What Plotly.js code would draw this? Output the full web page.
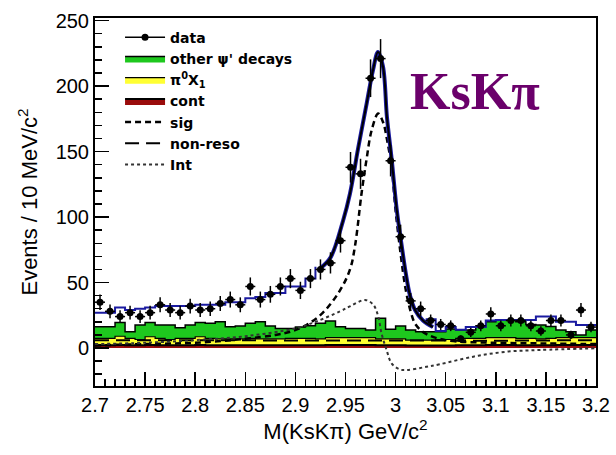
<!DOCTYPE html>
<html>
<head>
<meta charset="utf-8">
<script src="https://cdn.plot.ly/plotly-3.0.1.min.js"></script>
<style>html,body{margin:0;padding:0;background:#fff;}#chart{width:616px;height:455px;}</style>
</head>
<body>
<div id="chart"></div>
<script>
// Bin centres of M(KsKpi), 10 MeV bins
const massBins = [2.705,2.715,2.725,2.735,2.745,2.755,2.765,2.775,2.785,2.795,
  2.805,2.815,2.825,2.835,2.845,2.855,2.865,2.875,2.885,2.895,
  2.905,2.915,2.925,2.935,2.945,2.955,2.965,2.975,2.985,2.995,
  3.005,3.015,3.025,3.035,3.045,3.055,3.065,3.075,3.085,3.095,
  3.105,3.115,3.125,3.135,3.145,3.155,3.165,3.175,3.185,3.195];
const dataEvents = [35,28,24,27,24,27,33,29,27,32,
  29,30,34,37,33,47,37,41,47,53,
  44,53,60,65,82,138,133,206,221,143,
  85,36,30,21,18,17,7,12,17,26,
  17,21,21,17,13,21,21,10,29,16];
const dataErrors = [5.9,5.3,4.9,5.2,4.9,5.2,5.7,5.4,5.2,5.7,
  5.4,5.5,5.8,6.1,5.7,6.9,6.1,6.4,6.9,7.3,
  6.6,7.3,7.7,8.1,9.1,11.7,11.5,14.4,14.9,12.0,
  9.2,6.0,5.5,4.6,4.2,4.1,2.6,3.5,4.1,5.1,
  4.1,4.6,4.6,4.1,3.6,4.6,4.6,3.2,5.4,4.0];
// stacked background histograms (cumulative heights)
const otherPsiDecays = [16.3,16.3,19.4,12.5,17.6,19.4,17.6,17.6,15.5,17.6,
  19.4,19,20,16.3,16.8,18.9,20,16.8,15,15,
  16,17,19,20.6,16.3,15,15,13.8,22.7,14.3,
  16.8,13.8,12.5,12.5,12.5,14.5,13.8,13.8,16.8,20,
  21.4,21.4,20,18,17.6,16.5,13.8,12.5,10,13.8];
const pi0X1 = [7.4,7.4,9,7.4,6.5,8.6,7.4,6.5,7.4,7.4,
  8.6,7.4,7,7,7,7.4,7,7,7,7.4,
  7.4,7.4,7,8,8,8,8,8,7,7,
  7,6,6,6,6.5,6.5,7.4,7.4,7.4,8,
  8,8,7.4,7.4,7,7.4,8,8,8,8];
const contBkg = [2.2,2.2,2.4,2.2,2.1,2.4,2.2,2.1,2.2,2.2,
  2.4,2.2,2.1,2.1,2.1,2.2,2.1,2.1,2.1,2.2,
  2.2,2.2,2.1,2.3,2.3,2.3,2.3,2.3,2.1,2.1,
  2.1,2.0,2.0,2.0,2.0,2.0,2.2,2.2,2.2,2.3,
  2.3,2.3,2.2,2.2,2.1,2.2,2.3,2.3,2.3,2.3];
// total fit, binned (background-dominated regions)
const totalFitBinned = [27,27,31,29,30,31,32,32,32,32,
  33,33,33,35,35,38,39,42,42,47,
  47,53,62,null,null,null,null,null,null,null,
  null,null,null,22,13,16,14,16,16,21,
  21.4,21.4,21.4,21.4,24,24,20,20,17.6,17.6];
// total fit, smooth peak region
const peakX = [2.925,2.935,2.9475,2.9545,2.9625,2.9712,2.9774,2.9824,2.9874,2.9914,2.9961,3.0011,3.0061,3.0104,3.0144,3.0194,3.0273,3.0373];
const peakY = [61,69,97,118,152,187,212,226,215,176,144,106,78,56,40,29,21,16];
// signal component
const sigX = [2.70,2.75,2.80,2.85,2.88,2.895,2.911,2.9275,2.9445,2.9545,2.9595,2.966,2.971,2.976,2.9826,2.9877,2.9917,2.996,3.0,3.005,3.01,3.015,3.02,3.03,3.05,3.1,3.15,3.2];
const sigY = [2,3,4,7,10,12.5,17.6,27,44,60,78,118,144,166,179,172,158,138,105,72,45,28,18,11,6,4,3.5,3];
// non-resonant component
const nonResoX = [2.7,2.8,2.9,3.0,3.1,3.2];
const nonResoY = [6,5.8,5.5,5.3,5.6,6];
// interference component
const intX = [2.70,2.75,2.80,2.85,2.90,2.92,2.9445,2.955,2.9695,2.9778,2.9827,2.986,2.991,2.996,3.004,3.011,3.0277,3.044,3.0775,3.111,3.144,3.2];
const intY = [3,4,6,9,15,20,28,32,36.7,33,24,11,-1.5,-11.7,-16.3,-16.8,-14.8,-12.4,-6.6,-2.8,-1.5,-0.2];

const halfBin = 0.005;
function stepX(centers){ const e = centers.map(c => +(c - halfBin).toFixed(4)); e.push(+(centers[centers.length-1] + halfBin).toFixed(4)); return e; }
function stepY(vals){ const v = vals.slice(); v.push(vals[vals.length-1]); return v; }
const edges = stepX(massBins);

const sans = 'Liberation Sans, Arial, Helvetica, sans-serif';
const traces = [
  {x: edges, y: stepY(otherPsiDecays), type:'scatter', mode:'lines', line:{shape:'hv', color:'#000', width:1.5}, fill:'tozeroy', fillcolor:'#1ec81e', name:"other ψ' decays", legendrank:2},
  {x: edges, y: stepY(pi0X1), type:'scatter', mode:'lines', line:{shape:'hv', color:'#000', width:1.2}, fill:'tozeroy', fillcolor:'#ffff33', name:'π<sup>0</sup>X<sub>1</sub>', legendrank:3},
  {x: edges, y: stepY(contBkg), type:'scatter', mode:'lines', line:{shape:'hv', color:'#000', width:2}, fill:'tozeroy', fillcolor:'#9a0c0c', name:'cont', legendrank:4},
  {x: nonResoX, y: nonResoY, type:'scatter', mode:'lines', line:{color:'#000', width:2, dash:'14px,7px'}, name:'non-reso', legendrank:6},
  {x: sigX, y: sigY, type:'scatter', mode:'lines', line:{color:'#000', width:2.5, dash:'6px,4px', shape:'spline'}, name:'sig', legendrank:5},
  {x: intX, y: intY, type:'scatter', mode:'lines', line:{color:'#333', width:2, dash:'dot', shape:'spline'}, name:'Int', legendrank:7},
  {x: edges, y: stepY(totalFitBinned), type:'scatter', mode:'lines', line:{shape:'hv', color:'#1a1aa0', width:2}, connectgaps:false, showlegend:false},
  {x: peakX, y: peakY, type:'scatter', mode:'lines', line:{shape:'spline', color:'#1a1aa0', width:4}, showlegend:false},
  {x: peakX, y: peakY, type:'scatter', mode:'lines', line:{shape:'spline', color:'#000', width:2}, showlegend:false},
  {x: massBins, y: dataEvents, type:'scatter', mode:'markers', marker:{color:'#000', size:7},
   error_y:{type:'data', array:dataErrors, color:'#000', thickness:1.5, width:0},
   error_x:{type:'constant', value:halfBin, color:'#000', thickness:1.5, width:0}, showlegend:false},
  {x:[null], y:[null], type:'scatter', mode:'lines+markers', line:{color:'#000', width:1.5}, marker:{color:'#000', size:7}, name:'data', legendrank:1}
];

const axisCommon = {
  showgrid:false, zeroline:false, showline:true, linecolor:'#000', linewidth:2, mirror:true,
  ticks:'inside', ticklen:14, tickwidth:1.5, tickcolor:'#000',
  tickfont:{family:sans, size:20, color:'#000'},
};
const layout = {
  width:616, height:455,
  margin:{l:95, r:20, t:18, b:69},
  paper_bgcolor:'#fff', plot_bgcolor:'#fff',
  showlegend:true,
  legend:{x:0.05, y:0.99, xanchor:'left', yanchor:'top', bgcolor:'rgba(0,0,0,0)', borderwidth:0,
    font:{family:'DejaVu Sans, sans-serif', size:14, color:'#000', weight:'bold'}, itemwidth:40, tracegroupgap:0},
  xaxis: Object.assign({}, axisCommon, {range:[2.7,3.2], tick0:2.7, dtick:0.05,
    minor:{dtick:0.01, ticks:'inside', ticklen:7, tickwidth:1.5, tickcolor:'#000', showgrid:false},
    title:{text:'M(KsKπ) GeV/c<sup>2</sup>', font:{family:sans, size:22, color:'#000'}, standoff:8}}),
  yaxis: Object.assign({}, axisCommon, {range:[-29,252], tick0:0, dtick:50,
    minor:{dtick:10, ticks:'inside', ticklen:7, tickwidth:1.5, tickcolor:'#000', showgrid:false},
    title:{text:'Events / 10 MeV/c<sup>2</sup>', font:{family:sans, size:22, color:'#000'}, standoff:12}}),
  annotations:[{text:'KsKπ', xref:'paper', yref:'paper', x:0.758, y:0.80, xanchor:'center', yanchor:'middle', showarrow:false,
    font:{family:'Liberation Serif, Times New Roman, serif', size:52, color:'#6b006b', weight:'bold'}}]
};
Plotly.newPlot('chart', traces, layout, {displayModeBar:false, staticPlot:true});
</script>
</body>
</html>
